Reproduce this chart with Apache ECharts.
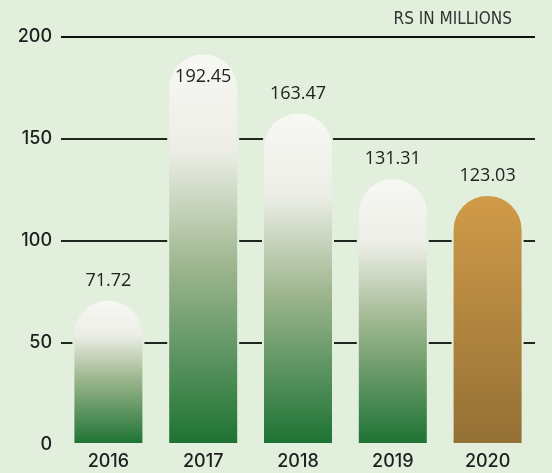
<!DOCTYPE html>
<html>
<head>
<meta charset="utf-8">
<script src="https://cdn.jsdelivr.net/npm/echarts@6/dist/echarts.min.js"></script>
<style>
html,body{margin:0;padding:0;background:#e1efdc;}
#c{width:552px;height:473px;}
</style>
</head>
<body>
<div id="c"></div>
<script>
const years = ['2016', '2017', '2018', '2019', '2020'];
const values = [71.72, 192.45, 163.47, 131.31, 123.03];
const yTicks = [0, 50, 100, 150, 200];
const unitLabel = 'RS IN MILLIONS';

const greenGrad = new echarts.graphic.LinearGradient(0, 0, 0, 1, [
  {offset: 0, color: '#f8f8f4'},
  {offset: 0.25, color: '#eceee6'},
  {offset: 0.55, color: '#9cb58d'},
  {offset: 1, color: '#1c7233'}
]);
const goldGrad = new echarts.graphic.LinearGradient(0, 0, 0, 1, [
  {offset: 0, color: '#d19b49'},
  {offset: 1, color: '#937035'}
]);

const data = values.map((v, i) => {
  const d = {value: v, itemStyle: {color: i === 4 ? goldGrad : greenGrad}};
  if (i === 1) {
    d.label = {position: 'insideTop', distance: 15};
  }
  return d;
});

const chart = echarts.init(document.getElementById('c'));
chart.setOption({
  backgroundColor: '#e1efdc',
  animation: false,
  grid: {left: 61, right: 17, top: 37, bottom: 28},
  graphic: [{
    type: 'text', right: 40, top: 11,
    style: {text: unitLabel, fill: '#333', font: '17px "DejaVu Sans Condensed", "Liberation Sans Narrow", sans-serif'}
  }],
  xAxis: {
    type: 'category', data: years,
    axisLine: {show: false}, axisTick: {show: false},
    axisLabel: {color: '#1e1e1e', fontSize: 18, fontWeight: 500, fontFamily: 'Inter', margin: 8}
  },
  yAxis: {
    type: 'value', min: yTicks[0], max: yTicks[yTicks.length - 1], interval: 50,
    axisLine: {show: false}, axisTick: {show: false},
    axisLabel: {color: '#1e1e1e', fontSize: 18, fontWeight: 500, fontFamily: 'Inter', margin: 9},
    splitLine: {lineStyle: {color: ['rgba(0,0,0,0)', '#1e261e', '#1e261e', '#1e261e', '#111111'], width: 2}}
  },
  series: [{
    type: 'bar', data: data, barWidth: 72,
    itemStyle: {borderRadius: [36, 36, 0, 0], borderColor: '#e1efdc', borderWidth: 2},
    label: {show: true, position: 'top', distance: 9, color: '#222', fontSize: 18, fontWeight: 500, fontFamily: 'Open Sans'}
  }]
});
</script>
</body>
</html>
